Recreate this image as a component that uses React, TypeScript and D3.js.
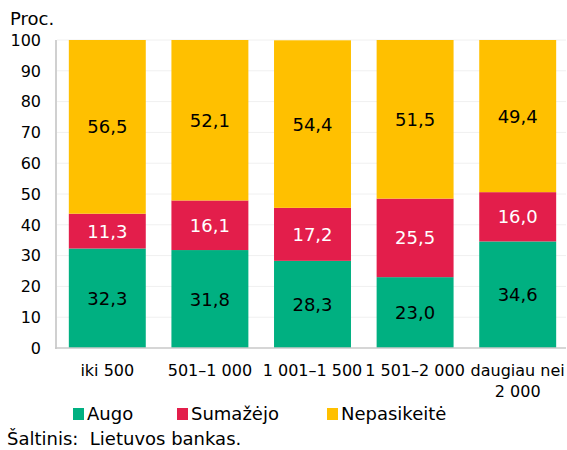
import * as d3 from "d3";
import { useEffect, useRef } from "react";

const categories = ["iki 500", "501–1 000", "1 001–1 500", "1 501–2 000", "daugiau nei\n2 000"];
const seriesNames = ["Augo", "Sumažėjo", "Nepasikeitė"];
const augo = [32.3, 31.8, 28.3, 23.0, 34.6];
const sumazejo = [11.3, 16.1, 17.2, 25.5, 16.0];
const nepasikeite = [56.5, 52.1, 54.4, 51.5, 49.4];
const yTicks = [0, 10, 20, 30, 40, 50, 60, 70, 80, 90, 100];

function App() {
  const ref = useRef<SVGSVGElement>(null);

  useEffect(() => {
    const width = 567,
      height = 450;
    const font = "DejaVu Sans, Verdana, sans-serif";
    const svg = d3.select(ref.current);
    svg.selectAll("*").remove();

    const x = d3
      .scaleBand()
      .domain(categories)
      .range([56, 569])
      .paddingInner(0.25)
      .paddingOuter(0.125);
    const y = d3.scaleLinear().domain([0, 100]).range([348, 40]);

    const color = d3
      .scaleOrdinal<string>()
      .domain(seriesNames)
      .range(["#00B081", "#E31E4B", "#FFC000"]);

    // grid
    svg
      .append("g")
      .selectAll("line")
      .data(yTicks.filter((t) => t > 0))
      .join("line")
      .attr("x1", 57)
      .attr("x2", 566)
      .attr("y1", (d) => y(d))
      .attr("y2", (d) => y(d))
      .attr("stroke", "#f0f0f0")
      .attr("stroke-width", 1);

    // y tick labels
    svg
      .append("g")
      .selectAll("text")
      .data(yTicks)
      .join("text")
      .attr("x", 41)
      .attr("y", (d) => y(d))
      .attr("dy", "0.36em")
      .attr("text-anchor", "end")
      .style("font-family", font)
      .style("font-size", "16px")
      .style("fill", "#000")
      .text((d) => d);

    const rows = categories.map((c, i) => ({
      cat: c,
      Augo: augo[i],
      "Sumažėjo": sumazejo[i],
      "Nepasikeitė": nepasikeite[i],
    }));
    const stacked = d3.stack<any>().keys(seriesNames)(rows);

    const layer = svg
      .append("g")
      .selectAll("g")
      .data(stacked)
      .join("g")
      .attr("fill", (d) => color(d.key));

    layer
      .selectAll("rect")
      .data((d) => d)
      .join("rect")
      .attr("x", (d: any) => x(d.data.cat)!)
      .attr("width", x.bandwidth())
      .attr("y", (d) => y(Math.min(d[1], 100)))
      .attr("height", (d) => y(d[0]) - y(Math.min(d[1], 100)));

    stacked.forEach((s) => {
      svg
        .append("g")
        .selectAll("text")
        .data(s)
        .join("text")
        .attr("x", (d: any) => x(d.data.cat)! + x.bandwidth() / 2)
        .attr("y", (d) => (y(d[0]) + y(Math.min(d[1], 100))) / 2)
        .attr("dy", "0.36em")
        .attr("text-anchor", "middle")
        .style("font-family", font)
        .style("font-size", "18px")
        .style("fill", s.key === "Sumažėjo" ? "#fff" : "#000")
        .text((d: any) => d.data[s.key].toFixed(1).replace(".", ","));
    });

    // axes lines
    svg
      .append("line")
      .attr("x1", 56)
      .attr("x2", 56)
      .attr("y1", 40)
      .attr("y2", 349)
      .attr("stroke", "#d0d0d0")
      .attr("stroke-width", 2);
    svg
      .append("line")
      .attr("x1", 55)
      .attr("x2", 566)
      .attr("y1", 348)
      .attr("y2", 348)
      .attr("stroke", "#c8c8c8")
      .attr("stroke-width", 1.5);

    // x labels
    const xl = svg
      .append("g")
      .selectAll("text")
      .data(categories)
      .join("text")
      .attr("x", (d) => x(d)! + x.bandwidth() / 2)
      .attr("y", 376)
      .attr("text-anchor", "middle")
      .style("font-family", font)
      .style("font-size", "16px")
      .style("fill", "#000");
    xl.selectAll("tspan")
      .data((d) => d.split("\n"))
      .join("tspan")
      .attr("x", function () {
        return (this.parentNode as SVGTextElement).getAttribute("x");
      })
      .attr("dy", (d, i) => (i === 0 ? 0 : 21))
      .text((d) => d);

    // legend
    const legendX = [73, 177, 327];
    const lg = svg
      .append("g")
      .selectAll("g")
      .data(seriesNames)
      .join("g")
      .attr("transform", (d, i) => `translate(${legendX[i]},408)`);
    lg.append("rect")
      .attr("width", 11)
      .attr("height", 12)
      .attr("fill", (d) => color(d));
    lg.append("text")
      .attr("x", 14)
      .attr("y", 12)
      .style("font-family", font)
      .style("font-size", "18px")
      .style("fill", "#000")
      .text((d) => d);

    svg
      .append("text")
      .attr("x", 10)
      .attr("y", 25)
      .style("font-family", font)
      .style("font-size", "18px")
      .text("Proc.");

    svg
      .append("text")
      .attr("x", 7)
      .attr("y", 445)
      .style("font-family", font)
      .style("font-size", "18px")
      .style("white-space", "pre")
      .text("Šaltinis:  Lietuvos bankas.");

    svg.attr("width", width).attr("height", height);
  }, []);

  return (
    <div style={{ position: "absolute", left: 0, top: 0 }}>
      <svg ref={ref} width={567} height={450} style={{ display: "block", background: "#fff" }} />
    </div>
  );
}

export default App;
